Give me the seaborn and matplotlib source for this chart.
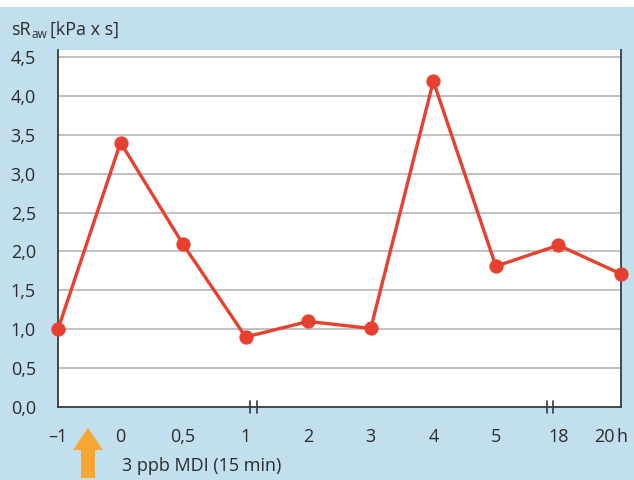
import matplotlib
matplotlib.use("Agg")
import matplotlib.pyplot as plt
import matplotlib.transforms as mtransforms
from matplotlib.patches import Rectangle, FancyArrow
import seaborn as sns
import pandas as pd

# Measurement times (h) and airway resistance values
time_labels = ["\u20131", "0", "0,5", "1", "2", "3", "4", "5", "18", "20"]
time_unit = "h"
sraw_values = [1.0, 3.4, 2.09, 0.9, 1.1, 1.01, 4.19, 1.81, 2.08, 1.71]
y_ticks = [0.0, 0.5, 1.0, 1.5, 2.0, 2.5, 3.0, 3.5, 4.0, 4.5]
y_tick_labels = ["0,0", "0,5", "1,0", "1,5", "2,0", "2,5", "3,0", "3,5", "4,0", "4,5"]

bg = "#c2dfee"
red = "#e8402f"
dark = "#3a3a3a"
txt = "#2b2b2b"
fs = 13

sns.set_theme(style="white")
plt.rcParams["font.family"] = ["Open Sans", "DejaVu Sans"]

df = pd.DataFrame({"pos": range(len(time_labels)), "sraw": sraw_values})

fig = plt.figure(figsize=(6.34, 4.8), dpi=100, facecolor=bg)
fig.patches.append(Rectangle((0, 1 - 7 / 480), 1, 7 / 480, transform=fig.transFigure,
                             facecolor="white", edgecolor="none", zorder=0))
ax = fig.add_axes([58 / 634, 1 - 407 / 480, (621 - 58) / 634, (407 - 50) / 480])
ax.set_facecolor("white")

for yv in y_ticks[1:]:
    ax.axhline(yv, color="#b5b5b5", lw=1.2, zorder=1)

sns.lineplot(data=df, x="pos", y="sraw", color=red, lw=2.4, marker="o",
             markersize=9.5, markeredgecolor=red, markerfacecolor=red,
             ax=ax, zorder=3, clip_on=False)

ax.set_xlim(0, len(time_labels) - 1)
ax.set_ylim(0, 4.59)
ax.set_xticks(range(len(time_labels)))
ax.set_xticklabels(time_labels)
ax.set_yticks(y_ticks)
ax.set_yticklabels(y_tick_labels)
ax.set_xlabel("")
ax.set_ylabel("")

ax.spines["top"].set_visible(False)
for side in ["left", "bottom", "right"]:
    ax.spines[side].set_visible(True)
    ax.spines[side].set_color(dark)
    ax.spines[side].set_linewidth(1.3)

ax.tick_params(axis="both", which="both", direction="out", color=dark,
               labelcolor=txt, labelsize=fs, width=1.3)
ax.tick_params(axis="y", length=10, pad=6)
ax.tick_params(axis="x", length=8, pad=7)

# Last tick label sits left of its tick, with the unit trailing
last = ax.get_xticklabels()[-1]
base_tr = last.get_transform()
last.set_horizontalalignment("right")
last.set_transform(base_tr + mtransforms.ScaledTranslation(-6 / 100, 0, fig.dpi_scale_trans))
ax.text(len(time_labels) - 1, 0, time_unit,
        transform=base_tr + mtransforms.ScaledTranslation(-4 / 100, 0, fig.dpi_scale_trans),
        fontsize=fs, color=txt, ha="left", va=last.get_verticalalignment())

# Axis break marks
trans = mtransforms.blended_transform_factory(ax.transData, ax.transAxes)
for xb in [3.07, 3.18, 7.81, 7.91]:
    ax.plot([xb, xb], [-0.018, 0.018], transform=trans, color=dark, lw=1.2,
            clip_on=False, zorder=4)

# Exposure arrow and label
fig.patches.append(FancyArrow(88 / 634, 1 - 478 / 480, 0, 50 / 480, width=14 / 634,
                              head_width=30 / 634, head_length=22 / 480,
                              length_includes_head=True, transform=fig.transFigure,
                              facecolor="#f7a731", edgecolor="none"))
fig.text(122 / 634, 1 - 466 / 480, "3 ppb MDI (15 min)", fontsize=fs,
         color=txt, va="center", ha="left")

# Axis title with a small subscript
renderer = fig.canvas.get_renderer()
t1 = fig.text(11 / 634, 1 - 35 / 480, "sR", fontsize=fs, color=txt, va="baseline", ha="left")
x1 = t1.get_window_extent(renderer).x1
t2 = fig.text((x1 + 0.5) / 634, 1 - 38 / 480, "aw", fontsize=8.5, color=txt,
              va="baseline", ha="left")
x2 = t2.get_window_extent(renderer).x1
fig.text((x2 + 3) / 634, 1 - 35 / 480, "[kPa x s]", fontsize=fs, color=txt,
         va="baseline", ha="left")

fig.savefig("out.png", dpi=100, facecolor=bg)
